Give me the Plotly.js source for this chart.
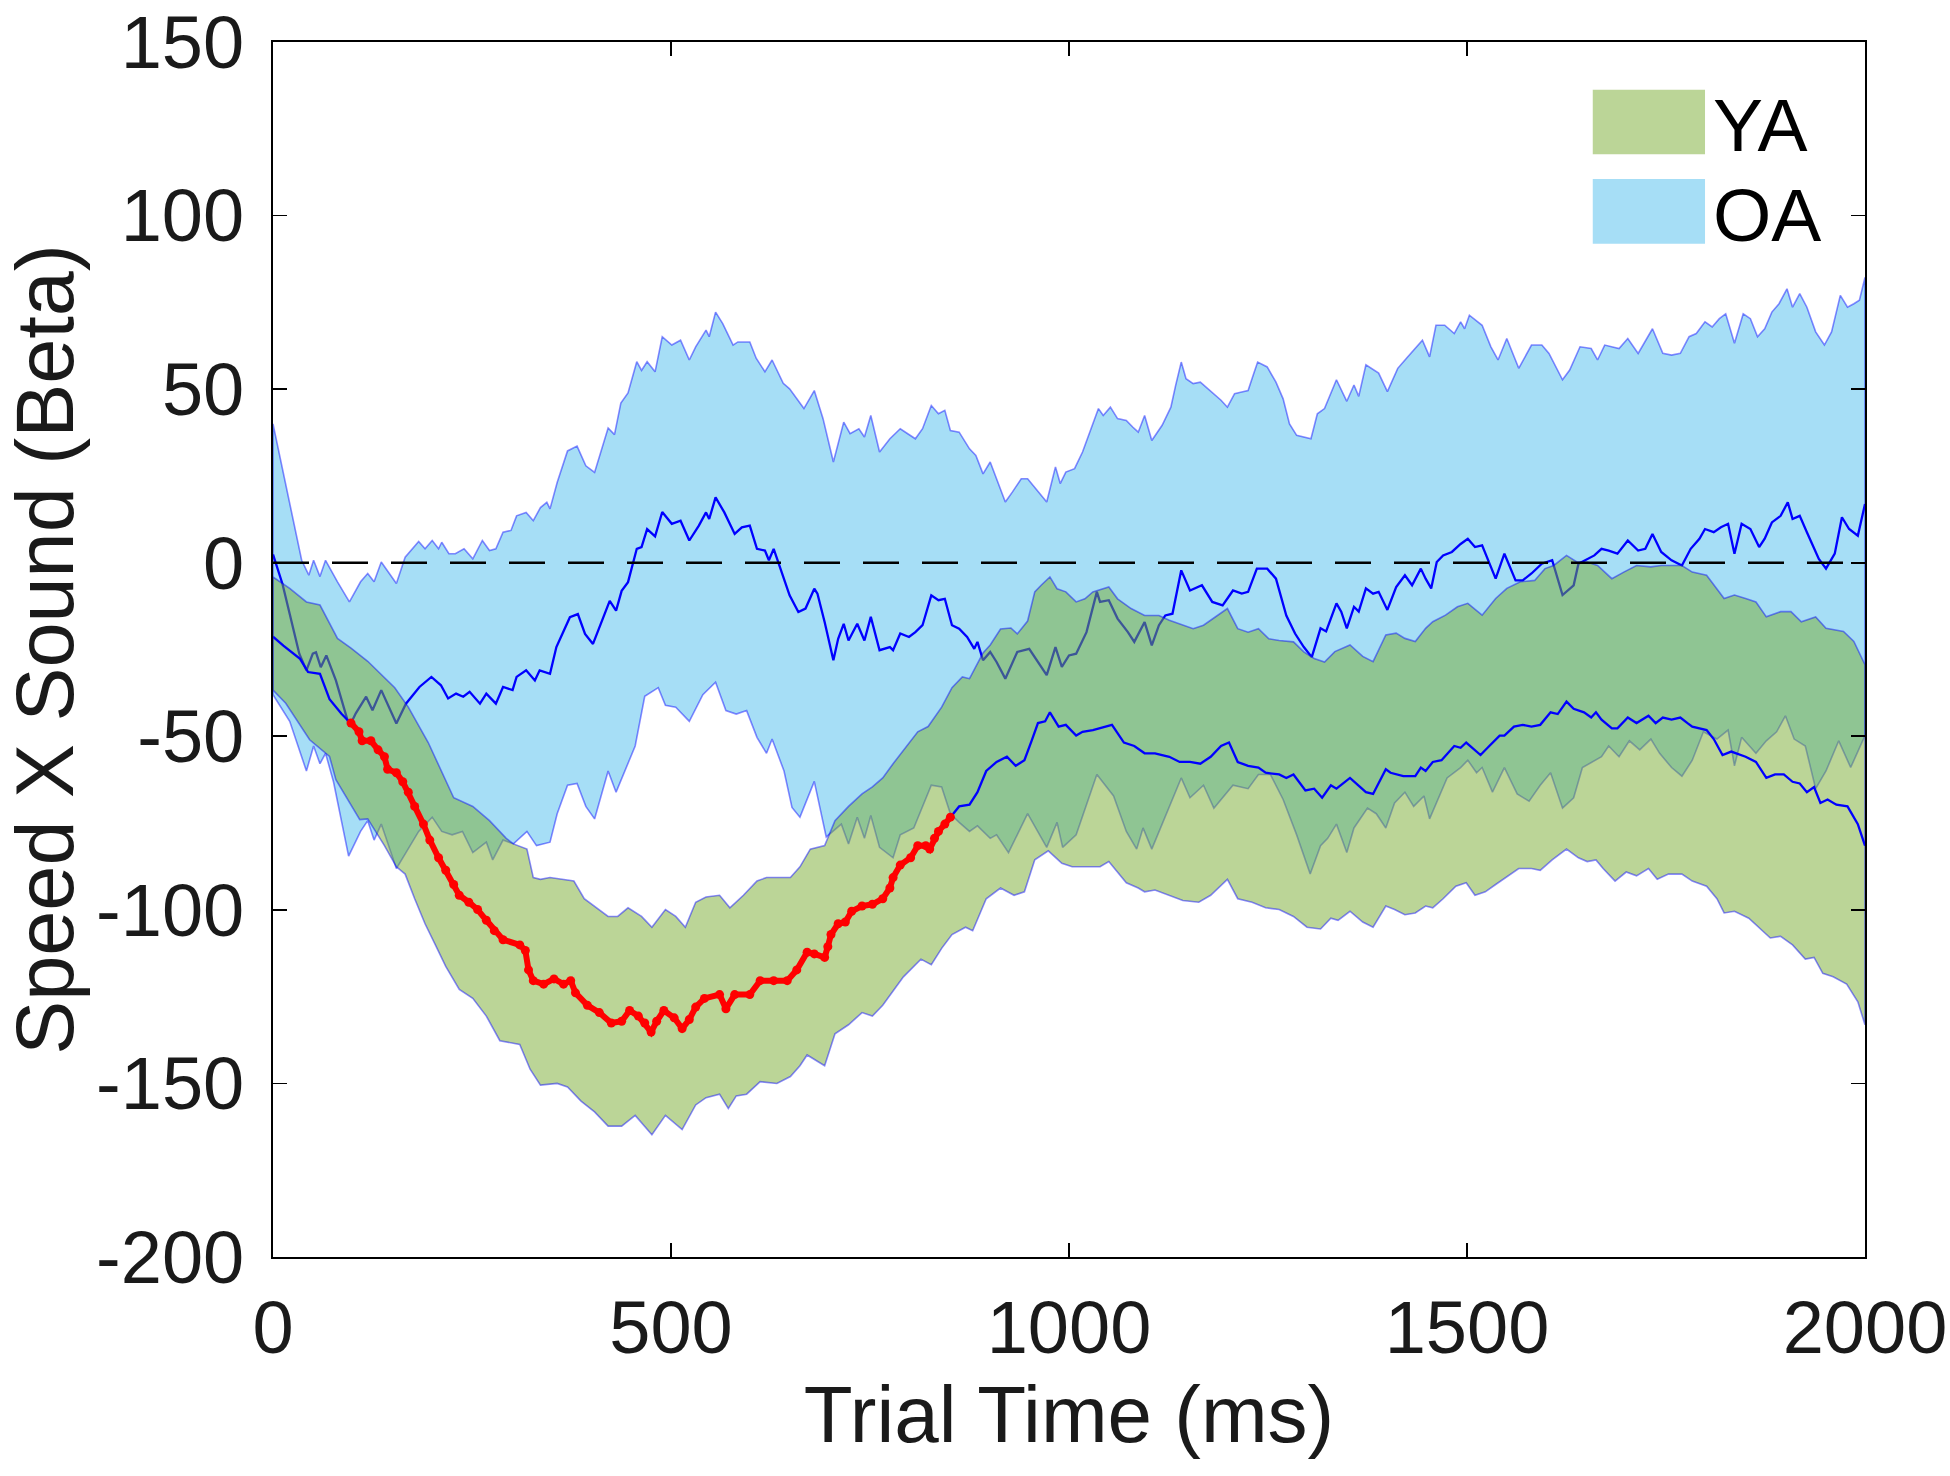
<!DOCTYPE html>
<html>
<head>
<meta charset="utf-8">
<script src="https://cdn.plot.ly/plotly-3.0.1.min.js"></script>
<style>
html,body{margin:0;padding:0;background:#fff;}
#chart{width:1950px;height:1476px;}
</style>
</head>
<body>
<div id="chart"></div>
<script>
// ---- Data: [time (ms), beta] pairs ----
const oaUpper = [[0,40],[36,0.7],[45,-3.6],[51,0.7],[59,-4],[66,0.7],[81,-5.5],[96,-11.3],[110,-5.5],[119,-3.1],[127,-5.5],[136,0.2],[155,-6],[166,1.6],[183,6.1],[191,4],[200,6.4],[208,4],[212,5.9],[221,2.6],[229,2.6],[240,4],[251,1.1],[263,6.4],[272,3.5],[280,4],[289,8.8],[299,9.3],[306,13.5],[318,14.5],[327,12.1],[336,15.9],[344,17.4],[348,15.5],[357,23.1],[370,32.2],[382,33.6],[393,27.9],[404,26],[421,38.8],[429,36.9],[437,46],[446,48.9],[457,57.9],[463,55.4],[470,57.9],[480,55],[489,65.1],[501,62.7],[512,64.1],[523,58.4],[531,62.2],[544,67],[548,65.1],[556,72.2],[565,68.9],[578,62.7],[584,63.6],[599,63.6],[607,58.9],[618,55],[627,58.4],[641,51.7],[649,50.1],[667,44.4],[680,49.6],[691,41.5],[704,29],[717,40.5],[725,37.2],[736,38.6],[743,36.2],[751,42.4],[762,31.9],[775,35.7],[788,38.6],[807,35.7],[816,38.6],[827,45.3],[836,42.9],[844,43.9],[851,38.1],[862,37.6],[875,32.8],[883,30.9],[892,25.6],[901,29],[909,24.2],[920,17.5],[929,20.4],[940,24.2],[948,24.2],[961,20.4],[972,17.5],[983,27.6],[989,22.8],[996,26.1],[1007,27.1],[1017,31.9],[1026,37.6],[1037,44.4],[1043,42.4],[1052,44.8],[1061,41.5],[1072,41],[1080,39.1],[1087,37.6],[1095,42.4],[1104,35.2],[1117,39.6],[1128,44.8],[1134,51.1],[1141,57.8],[1147,53],[1156,51.6],[1165,52],[1175,50.1],[1182,48.7],[1191,46.8],[1199,44.8],[1208,48.7],[1217,49.2],[1225,49.6],[1232,54.4],[1237,57.8],[1249,56.4],[1260,52],[1269,47.2],[1277,40],[1286,36.7],[1295,36.2],[1304,35.7],[1312,42.9],[1321,44.4],[1336,52.7],[1349,46.5],[1358,51.2],[1364,47.9],[1373,57],[1389,54.6],[1400,49.3],[1413,56],[1424,58.9],[1444,64.1],[1453,59.3],[1461,68.4],[1472,68.4],[1484,66],[1492,69.4],[1497,67.4],[1503,71.3],[1519,68.4],[1530,62.2],[1539,58.4],[1550,64.6],[1565,56],[1581,62.7],[1594,62.7],[1603,60.3],[1620,52.7],[1629,55.5],[1642,62.2],[1656,61.7],[1664,58.4],[1673,62.7],[1691,61.7],[1702,64.6],[1715,60.3],[1733,67.4],[1746,60.3],[1757,59.8],[1768,60.3],[1779,65.1],[1788,66],[1799,69.4],[1808,67.9],[1817,70.3],[1825,71.7],[1836,63.2],[1847,71.7],[1856,70.3],[1865,65.1],[1874,67.4],[1883,72.2],[1892,74.6],[1902,78.9],[1909,73.6],[1918,77.5],[1927,73.6],[1938,66.5],[1949,62.7],[1958,66.5],[1969,77],[1978,73.6],[1986,74.6],[1993,75.6],[2000,82.2]];

const oaLower = [[0,-38],[21,-45.7],[42,-60],[51,-52.8],[59,-57.9],[66,-54.9],[76,-63.1],[95,-84.5],[110,-77.4],[119,-74.3],[127,-79.9],[136,-75.3],[155,-88.1],[161,-85.6],[183,-77.4],[200,-73.3],[212,-77.4],[225,-78.4],[238,-77.4],[251,-83.5],[268,-80.5],[276,-85.6],[289,-79.9],[302,-81],[319,-77.4],[331,-81.5],[348,-80.5],[357,-72.3],[370,-64.1],[382,-63.6],[393,-70.2],[404,-73.8],[421,-60],[431,-66.1],[442,-60],[455,-52.8],[467,-38.5],[484,-36],[493,-41.1],[506,-41.6],[523,-45.7],[540,-38],[556,-34.4],[569,-42.6],[582,-43.6],[595,-42.6],[608,-50.3],[620,-54.9],[627,-50.8],[642,-60],[652,-70.5],[662,-73.3],[680,-63],[695,-79],[714,-75.3],[723,-81],[734,-73.3],[743,-79.4],[751,-72.8],[762,-82],[779,-85],[788,-78.4],[805,-76.4],[827,-64.1],[840,-64.6],[851,-72.3],[862,-74.8],[875,-77.4],[885,-75.8],[901,-79.4],[909,-78.4],[924,-83.5],[948,-72.3],[972,-82],[985,-74.8],[992,-82],[1009,-78.4],[1035,-61],[1056,-67.2],[1072,-77.4],[1085,-82.5],[1093,-76.4],[1104,-82.5],[1121,-73.3],[1141,-62],[1152,-67.7],[1169,-64.1],[1182,-70.7],[1195,-67.2],[1206,-64.1],[1225,-65.1],[1238,-61],[1253,-61],[1269,-68.2],[1286,-78.4],[1303,-89.7],[1316,-81.5],[1325,-79.4],[1336,-75.3],[1349,-83.5],[1358,-76.4],[1375,-70.7],[1386,-72.3],[1398,-76.4],[1409,-69.2],[1422,-66.1],[1433,-70.2],[1446,-67.2],[1453,-73.8],[1461,-69.2],[1475,-62],[1492,-59],[1501,-56.9],[1512,-60.5],[1519,-59],[1532,-66.1],[1547,-59],[1563,-66.6],[1578,-68.7],[1592,-64.1],[1605,-60.5],[1620,-70.7],[1634,-67.7],[1645,-59],[1669,-55.9],[1678,-52.8],[1691,-55.9],[1704,-51.3],[1717,-53.9],[1731,-50.8],[1742,-54.9],[1757,-59],[1770,-61.5],[1783,-56.9],[1797,-48.7],[1814,-50.8],[1828,-48.2],[1836,-58.5],[1845,-50.3],[1863,-54.9],[1876,-51.3],[1889,-48.7],[1900,-44.1],[1911,-50.8],[1925,-52.8],[1938,-65.1],[1951,-60],[1967,-51.3],[1982,-59],[2000,-49.8]];

const oaMean = [[0,2.4],[12,-6.2],[21,-14.8],[33,-26.2],[42,-31],[50,-26.2],[54,-25.8],[60,-30.1],[67,-26.7],[79,-33.9],[96,-47.2],[104,-43.4],[117,-38.6],[125,-42.5],[136,-36.7],[155,-46.3],[167,-40.6],[184,-35.8],[199,-32.9],[211,-35.3],[220,-39.1],[230,-37.7],[239,-38.6],[247,-37.2],[260,-40.6],[268,-37.7],[280,-40.6],[289,-35.8],[301,-36.7],[306,-32.9],[318,-31],[329,-33.9],[335,-31],[348,-32],[356,-24.3],[373,-15.7],[383,-14.8],[392,-20.5],[402,-23.4],[415,-15.7],[423,-11],[431,-13.8],[438,-8.1],[446,-5.6],[457,4],[463,4.5],[470,9.7],[480,7.6],[489,14.6],[501,11.2],[512,12.1],[523,6.4],[535,10.7],[544,14.5],[548,12.6],[556,18.8],[567,14.5],[580,8.3],[589,10.2],[599,10.7],[608,4],[618,3.5],[623,0.7],[629,4],[640,-3.6],[649,-9.4],[660,-14.2],[669,-13.2],[680,-7.5],[684,-8.9],[693,-17.1],[704,-28.1],[710,-21.9],[717,-17.6],[723,-22.4],[734,-17.6],[743,-22.4],[751,-15.6],[762,-25.2],[775,-24.3],[779,-25.2],[788,-20.4],[799,-21.4],[807,-20],[816,-18],[827,-9.4],[836,-10.8],[844,-10.4],[853,-18],[862,-19],[872,-21.4],[881,-24.8],[885,-22.8],[892,-28.1],[901,-25.7],[909,-28.6],[920,-33.4],[935,-25.7],[950,-24.8],[961,-28.6],[972,-32.4],[983,-24.3],[991,-30],[1000,-26.7],[1009,-26.2],[1022,-20],[1035,-8.4],[1039,-11.3],[1050,-10.8],[1061,-16.1],[1074,-20],[1082,-22.8],[1095,-17.1],[1104,-23.8],[1113,-18],[1121,-15.2],[1130,-14.7],[1141,-2.2],[1152,-8],[1167,-6.5],[1180,-11.3],[1193,-12.3],[1206,-8],[1217,-8.9],[1225,-8.4],[1236,-1.7],[1249,-1.7],[1260,-4.6],[1273,-15.2],[1284,-20.4],[1295,-24.3],[1305,-27.2],[1316,-18.9],[1323,-19.8],[1329,-16],[1336,-11.7],[1342,-14.1],[1349,-18.9],[1358,-12.7],[1364,-14.1],[1373,-7.4],[1382,-8.9],[1389,-8.4],[1400,-13.6],[1411,-7],[1422,-3.6],[1431,-6.5],[1442,-1.7],[1448,-4.6],[1455,-7.4],[1462,0.2],[1470,2.1],[1481,3.1],[1492,5.4],[1501,6.9],[1510,4.5],[1519,5],[1528,0.2],[1536,-4.6],[1547,2.6],[1561,-5.1],[1570,-5.1],[1581,-3.1],[1594,-0.3],[1607,0.7],[1620,-9.3],[1634,-6.5],[1640,-0.3],[1651,1.1],[1660,2.1],[1669,4],[1678,3.5],[1689,2.6],[1702,6.4],[1715,3.5],[1724,4],[1733,8.3],[1744,3.1],[1757,0.7],[1770,-0.8],[1781,4],[1792,6.9],[1799,9.7],[1810,8.8],[1819,10.2],[1828,11.2],[1836,2.6],[1845,11.2],[1856,9.7],[1867,4.5],[1874,6.9],[1883,11.6],[1894,13.5],[1903,17.4],[1909,12.6],[1918,13.5],[1927,8.8],[1936,4],[1942,1.1],[1951,-1.7],[1962,2.6],[1971,13.1],[1980,9.7],[1991,7.8],[2000,16.9]];

const yaUpper = [[0,-4.1],[21,-7.4],[42,-11.3],[59,-12.2],[81,-21.8],[98,-24.6],[119,-28.4],[136,-32.2],[153,-36],[170,-41.6],[195,-51.8],[227,-67.7],[251,-70.2],[272,-74.3],[293,-79.4],[302,-81],[319,-82.5],[327,-90.7],[336,-91.2],[348,-90.7],[361,-91.2],[378,-91.7],[391,-96.8],[404,-98.9],[421,-101.9],[433,-101.9],[446,-99.4],[463,-101.9],[476,-105],[493,-99.9],[506,-101.9],[518,-105],[531,-97.8],[544,-96.3],[561,-95.8],[574,-99.4],[591,-95.8],[608,-91.7],[620,-90.7],[637,-90.7],[650,-90.7],[662,-87.6],[675,-82.5],[693,-81.5],[706,-74.3],[723,-70.2],[740,-66.6],[753,-64.6],[766,-62],[779,-57.9],[792,-53.9],[810,-48.7],[823,-47.2],[840,-41.6],[853,-36],[866,-32.9],[875,-33.4],[892,-26],[901,-23.7],[914,-19.1],[927,-18.8],[935,-20.5],[948,-16.8],[957,-8.4],[965,-6.5],[976,-4.1],[985,-7.5],[996,-8.4],[1009,-11.3],[1020,-10.4],[1030,-8.4],[1043,-7.5],[1050,-7],[1061,-10.4],[1078,-13.2],[1095,-15.2],[1113,-15.2],[1126,-16.6],[1143,-18],[1156,-19],[1169,-18],[1186,-15.2],[1199,-13.2],[1212,-19],[1225,-20],[1238,-19],[1251,-21.9],[1264,-22.4],[1282,-22.8],[1295,-25.7],[1308,-27.6],[1321,-28.6],[1334,-25.6],[1353,-23.7],[1369,-27],[1382,-28.5],[1398,-20.8],[1411,-20.3],[1422,-21.8],[1435,-22.7],[1448,-18.9],[1457,-17],[1473,-15.1],[1488,-12.7],[1501,-11.7],[1519,-15.1],[1536,-10.3],[1550,-7.4],[1567,-5.5],[1585,-5.1],[1598,-1.7],[1609,-0.8],[1625,2.1],[1638,0.2],[1651,0.2],[1664,-0.8],[1682,-4.6],[1697,-2.7],[1713,-0.8],[1731,-1.2],[1744,-0.8],[1761,-0.8],[1770,-0.8],[1783,-2.7],[1801,-3.6],[1823,-10.3],[1836,-9.3],[1850,-10.3],[1863,-11.3],[1876,-15.6],[1894,-14.1],[1907,-14.1],[1920,-17],[1938,-15.6],[1951,-18.9],[1973,-19.8],[1986,-22.7],[2000,-29.4]];

const yaLower = [[0,-36.7],[16,-40.5],[46,-51],[71,-55.8],[79,-62.5],[109,-74],[119,-73.8],[140,-81.5],[155,-87.6],[166,-89.7],[178,-96.8],[191,-104],[204,-110.1],[217,-116.3],[234,-122.9],[251,-125.5],[268,-130.6],[285,-137.7],[310,-138.8],[323,-145.9],[336,-150.5],[357,-150],[370,-151],[387,-155.1],[404,-158.2],[421,-162.3],[438,-162.3],[455,-159.2],[476,-164.8],[493,-159.2],[514,-163.3],[531,-156.2],[544,-154.1],[561,-153.1],[572,-157.2],[582,-153.6],[595,-153.1],[612,-149.5],[633,-150],[650,-148],[662,-144.9],[671,-141.8],[693,-144.9],[706,-135.7],[723,-133.1],[740,-129.6],[753,-130.6],[766,-127.5],[779,-123.4],[792,-119.3],[814,-114.2],[827,-115.8],[840,-111.1],[853,-107.1],[870,-105],[879,-106],[896,-96.8],[914,-93.7],[931,-95.8],[944,-94.8],[957,-85.6],[974,-83],[991,-86.6],[1004,-87.6],[1022,-87.6],[1039,-87.6],[1050,-86.1],[1061,-89.1],[1072,-92.2],[1087,-93.7],[1095,-94.8],[1108,-94.3],[1126,-95.8],[1143,-97.3],[1163,-97.8],[1178,-95.8],[1199,-91.2],[1212,-96.8],[1230,-97.8],[1247,-99.4],[1264,-99.9],[1282,-101.9],[1299,-105],[1316,-105.5],[1329,-102.4],[1338,-103],[1353,-100.4],[1369,-103.5],[1382,-105],[1398,-98.9],[1409,-99.9],[1422,-101.4],[1435,-100.9],[1448,-98.9],[1457,-99.4],[1470,-96.8],[1486,-93.2],[1499,-92.2],[1510,-95.8],[1523,-94.8],[1536,-92.7],[1548,-90.7],[1565,-88.1],[1581,-88.1],[1592,-88.6],[1607,-85.6],[1625,-82.5],[1640,-85],[1651,-86.1],[1662,-85.6],[1671,-88.1],[1686,-91.7],[1700,-89.1],[1713,-90.2],[1728,-88.1],[1739,-91.2],[1753,-89.7],[1770,-89.7],[1783,-91.7],[1801,-93.2],[1814,-96.8],[1823,-100.9],[1836,-100.4],[1854,-102.4],[1867,-105],[1881,-108.1],[1894,-107.6],[1909,-110.1],[1925,-114.2],[1936,-113.7],[1947,-118.3],[1960,-119.3],[1977,-121.4],[1991,-126.5],[2000,-133.1]];

const yaMean = [[0,-21.3],[13,-23.9],[34,-27.7],[44,-31.5],[59,-32],[71,-39.3],[86,-43.5],[98,-46.2],[108,-48.7],[112,-51.3],[123,-51.3],[132,-53.9],[140,-55.9],[144,-59.5],[155,-60.5],[163,-63.1],[170,-66.1],[178,-70.2],[189,-75.3],[197,-79.9],[208,-85],[217,-88.6],[227,-92.7],[234,-95.8],[246,-97.8],[257,-99.9],[268,-103],[278,-106],[289,-108.6],[310,-110.1],[317,-111.7],[321,-117.3],[327,-120.4],[340,-121.4],[353,-119.9],[365,-121.4],[374,-120.4],[380,-123.9],[395,-127.5],[410,-129.6],[425,-132.6],[438,-132.1],[448,-129],[459,-130.6],[467,-132.6],[475,-135.2],[482,-132.1],[491,-129],[504,-131.1],[514,-134.2],[523,-131.6],[531,-128],[542,-125.5],[561,-124.4],[569,-128.5],[580,-124.4],[599,-124.4],[612,-120.4],[629,-120.4],[646,-120.4],[658,-117.3],[671,-112.2],[680,-112.7],[693,-113.7],[697,-110.6],[701,-107.1],[710,-104],[719,-103.5],[727,-100.4],[740,-98.9],[753,-98.4],[766,-96.8],[775,-93.7],[779,-90.7],[788,-87.1],[801,-85],[810,-81.5],[820,-81.5],[825,-82.5],[831,-79.4],[836,-77.4],[844,-75.3],[851,-73.3],[862,-70.2],[875,-69.7],[885,-66.1],[896,-60],[909,-57.4],[922,-55.9],[933,-58.5],[944,-56.9],[953,-51.3],[961,-46.2],[970,-45.7],[976,-43.1],[987,-47.2],[996,-46.7],[1009,-49.8],[1017,-48.7],[1030,-48.2],[1048,-47.2],[1054,-46.7],[1069,-51.8],[1082,-52.8],[1095,-54.9],[1108,-54.9],[1126,-55.9],[1139,-57.4],[1152,-57.4],[1165,-57.9],[1178,-55.9],[1191,-52.8],[1201,-51.8],[1212,-57.4],[1225,-58.5],[1238,-59],[1247,-60.5],[1264,-61],[1273,-62],[1282,-61],[1297,-65.6],[1308,-65.1],[1318,-67.7],[1329,-64.1],[1336,-65.1],[1353,-62],[1373,-66.1],[1382,-66.6],[1398,-59.5],[1404,-60.5],[1420,-61.5],[1435,-61.5],[1442,-59],[1448,-60],[1457,-57.4],[1468,-56.9],[1484,-52.8],[1492,-53.3],[1499,-51.8],[1517,-55.4],[1528,-52.8],[1541,-49.8],[1547,-49.8],[1559,-47.2],[1570,-46.7],[1581,-47.2],[1592,-46.7],[1605,-43.1],[1614,-43.6],[1625,-40],[1634,-42.1],[1647,-43.1],[1656,-44.6],[1662,-43.1],[1669,-45.2],[1682,-47.7],[1689,-47.7],[1702,-44.6],[1713,-46.2],[1728,-44.1],[1737,-46.2],[1746,-44.6],[1757,-45.2],[1768,-44.6],[1777,-46.2],[1783,-47.2],[1801,-48.2],[1810,-50.8],[1821,-55.4],[1832,-54.4],[1850,-55.9],[1863,-57.4],[1876,-62],[1887,-61],[1898,-61],[1909,-63.1],[1918,-63.6],[1927,-66.1],[1936,-64.6],[1944,-69.2],[1953,-68.2],[1964,-69.7],[1978,-70.2],[1991,-75.3],[2000,-81.5]];

// significant window (red points on the YA mean), ms
const sigWindow = [88, 851];

const groupNames = ['YA', 'OA'];
const xTicks = [0, 500, 1000, 1500, 2000];
const yTicks = [-200, -150, -100, -50, 0, 50, 100, 150];

// ---- Styles ----
const FONT = "'Liberation Sans', Arial, Helvetica, sans-serif";
const OA_FILL = 'rgba(77,190,238,0.5)';
const YA_FILL = 'rgba(119,172,48,0.5)';
const EDGE = 'rgba(0,0,255,0.45)';

function xs(a){return a.map(p=>p[0]);}
function ys(a){return a.map(p=>p[1]);}
function band(up, lo){
  const x = xs(up).concat(xs(lo).slice().reverse());
  const y = ys(up).concat(ys(lo).slice().reverse());
  x.push(x[0]); y.push(y[0]);
  return {x, y};
}

const oaBand = band(oaUpper, oaLower);
const yaBand = band(yaUpper, yaLower);
const sig = yaMean.filter(p => p[0] >= sigWindow[0] && p[0] <= sigWindow[1]);

const traces = [
  {x: oaBand.x, y: oaBand.y, type:'scatter', mode:'lines', fill:'toself', fillcolor: OA_FILL,
   line:{color: EDGE, width:1.6}, name: groupNames[1], showlegend:false, hoverinfo:'skip'},
  {x: xs(oaMean), y: ys(oaMean), type:'scatter', mode:'lines', line:{color:'#0000ff', width:2.3},
   showlegend:false, hoverinfo:'skip'},
  {x: yaBand.x, y: yaBand.y, type:'scatter', mode:'lines', fill:'toself', fillcolor: YA_FILL,
   line:{color: EDGE, width:1.6}, name: groupNames[0], showlegend:false, hoverinfo:'skip'},
  {x: xs(yaMean), y: ys(yaMean), type:'scatter', mode:'lines', line:{color:'#0000ff', width:2.3},
   showlegend:false, hoverinfo:'skip'},
  {x: xs(sig), y: ys(sig), type:'scatter', mode:'lines+markers', line:{color:'#ff0000', width:6},
   marker:{color:'#ff0000', size:9}, showlegend:false, hoverinfo:'skip'},
  {x: [xTicks[0], xTicks[xTicks.length-1]], y: [0, 0], type:'scatter', mode:'lines',
   line:{color:'#000000', width:2.6, dash:'36px,23px'}, showlegend:false, hoverinfo:'skip'}
];

const axisCommon = {
  showgrid:false, zeroline:false, showline:true, linecolor:'#000', linewidth:2,
  mirror:'ticks', ticks:'inside', ticklen:14, tickwidth:1.6, tickcolor:'#000',
  ticklabeloverflow:'allow',
  tickfont:{family: FONT, size:74, color:'#1a1a1a'}
};

const layout = {
  width:1950, height:1476,
  margin:{l:273, r:85, t:42, b:219, pad:0},
  paper_bgcolor:'#fff', plot_bgcolor:'#fff',
  showlegend:false,
  xaxis: Object.assign({}, axisCommon, {
    range:[0,2000], tickvals:xTicks, ticktext:xTicks.map(String),
    ticklabelstandoff: 5,
    title:{text:'Trial Time (ms)', font:{family:FONT, size:80, color:'#1a1a1a'}, standoff:18}
  }),
  yaxis: Object.assign({}, axisCommon, {
    range:[-200,150], tickvals:yTicks, ticktext:yTicks.map(String),
    ticklabelstandoff: 12,
    title:{text:'Speed X Sound (Beta)', font:{family:FONT, size:81, color:'#1a1a1a'}, standoff:20}
  }),
  shapes:[
    {type:'rect', xref:'paper', yref:'paper', x0:0.829, x1:0.8995, y0:0.9076, y1:0.9607,
     fillcolor:YA_FILL, line:{width:0}},
    {type:'rect', xref:'paper', yref:'paper', x0:0.829, x1:0.8995, y0:0.834, y1:0.8872,
     fillcolor:OA_FILL, line:{width:0}}
  ],
  annotations:[
    {xref:'paper', yref:'paper', x:0.903, y:0.932, xanchor:'left', yanchor:'middle',
     text:groupNames[0], showarrow:false, font:{family:FONT, size:75, color:'#000'}},
    {xref:'paper', yref:'paper', x:0.903, y:0.8576, xanchor:'left', yanchor:'middle',
     text:groupNames[1], showarrow:false, font:{family:FONT, size:75, color:'#000'}}
  ]
};

Plotly.newPlot('chart', traces, layout, {staticPlot:true, displayModeBar:false});
</script>
</body>
</html>
